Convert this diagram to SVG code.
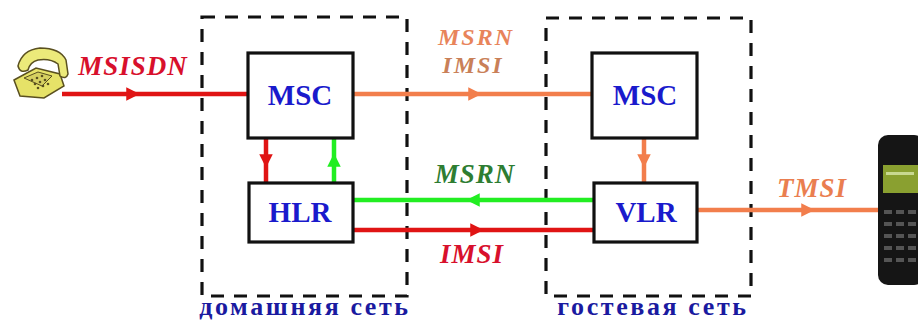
<svg xmlns="http://www.w3.org/2000/svg" width="918" height="322" viewBox="0 0 918 322">
<style>
.net{fill:none;stroke:#111;stroke-width:3.2;stroke-dasharray:13 10}
.box{fill:#fff;stroke:#111;stroke-width:3.2}
.nt{font-family:"Liberation Serif",serif;font-weight:bold;font-size:29px;fill:#1a1acc;text-anchor:middle}
.lb{font-family:"Liberation Serif",serif;font-style:italic;font-weight:bold;font-size:27px;text-anchor:middle;letter-spacing:1px}
.sm{font-size:24px;letter-spacing:2px}
.cap{font-family:"Liberation Serif",serif;font-weight:bold;font-size:26px;fill:#1a1aa0;text-anchor:middle;letter-spacing:2.6px}
.red{stroke:#e01414;stroke-width:4.5;fill:none}
.org{stroke:#f27e4c;stroke-width:4.5;fill:none}
.grn{stroke:#22ee22;stroke-width:4.5;fill:none}
</style>
<defs>
<marker id="ar" viewBox="0 0 10 10" refX="5" refY="5" markerWidth="3" markerHeight="3" orient="auto"><path d="M0,0 L10,5 L0,10 Z" fill="#e01414"/></marker>
<marker id="ao" viewBox="0 0 10 10" refX="5" refY="5" markerWidth="3" markerHeight="3" orient="auto"><path d="M0,0 L10,5 L0,10 Z" fill="#f27e4c"/></marker>
<marker id="ag" viewBox="0 0 10 10" refX="5" refY="5" markerWidth="3" markerHeight="3" orient="auto"><path d="M0,0 L10,5 L0,10 Z" fill="#22ee22"/></marker>
</defs>
<rect width="918" height="322" fill="#fff"/>

<g id="home-net">
<rect class="net" x="202" y="17" width="205" height="279"/>
<text class="cap" x="305" y="315">домашняя сеть</text>
</g>
<g id="visited-net">
<rect class="net" x="546" y="18" width="205" height="278"/>
<text class="cap" x="653" y="315">гостевая сеть</text>
</g>

<g id="connectors">
<path class="red" d="M62,94 L133,94 L248,94" marker-mid="url(#ar)"/>
<path class="org" d="M353,94 L475,94 L592,94" marker-mid="url(#ao)"/>
<path class="red" d="M266,138 L266,161 L266,183" marker-mid="url(#ar)"/>
<path class="grn" d="M334,183 L334,160 L334,138" marker-mid="url(#ag)"/>
<path class="org" d="M644,138 L644,161 L644,183" marker-mid="url(#ao)"/>
<path class="grn" d="M594,200 L473,200 L353,200" marker-mid="url(#ag)"/>
<path class="red" d="M353,230 L477,230 L594,230" marker-mid="url(#ar)"/>
<path class="org" d="M697,210 L808,210 L878,210" marker-mid="url(#ao)"/>
</g>

<g id="labels">
<text class="lb" x="133" y="75" fill="#d8102c">MSISDN</text>
<text class="lb sm" x="476" y="45" fill="#e8845a">MSRN</text>
<text class="lb sm" x="473" y="73" fill="#c98058">IMSI</text>
<text class="lb" x="475" y="183" fill="#2e7d32">MSRN</text>
<text class="lb" x="472" y="263" fill="#d8102c">IMSI</text>
<text class="lb" x="812" y="197" fill="#ea7e50">TMSI</text>
</g>

<g id="home-msc"><rect class="box" x="248" y="53" width="105" height="85"/><text class="nt" x="300" y="105">MSC</text></g>
<g id="hlr"><rect class="box" x="249" y="183" width="104" height="59"/><text class="nt" x="300" y="222">HLR</text></g>
<g id="visited-msc"><rect class="box" x="592" y="53" width="105" height="85"/><text class="nt" x="645" y="105">MSC</text></g>
<g id="vlr"><rect class="box" x="594" y="183" width="103" height="59"/><text class="nt" x="646" y="222">VLR</text></g>

<g id="telephone" stroke="#5a5020" stroke-width="1.5">
<path d="M14,80 L36,68 L60,74 L64,86 L44,98 L20,96 Z" fill="#e6e268"/>
<path d="M24,78 L38,72 L52,76 L42,86 Z" fill="#d6d060" stroke-width="1"/>
<path d="M18,66 Q22,50 40,48 Q60,48 66,60 L68,74 Q66,80 60,76 L58,64 Q50,58 38,60 Q30,62 28,70 Q20,74 18,66 Z" fill="#ecea7a"/>
<g fill="#5a5020" stroke="none"><circle cx="32" cy="80" r="1.3"/><circle cx="37" cy="78" r="1.3"/><circle cx="42" cy="76" r="1.3"/><circle cx="35" cy="84" r="1.3"/><circle cx="40" cy="82" r="1.3"/><circle cx="45" cy="80" r="1.3"/><circle cx="38" cy="88" r="1.3"/><circle cx="43" cy="86" r="1.3"/><circle cx="48" cy="84" r="1.3"/></g>
</g>

<g id="mobile">
<rect x="878" y="135" width="46" height="150" rx="10" fill="#151515"/>
<rect x="883" y="165" width="35" height="28" fill="#8aa030"/>
<rect x="886" y="172" width="28" height="3" fill="#c8d890"/>
<g fill="#555"><rect x="884" y="210" width="8" height="4"/><rect x="896" y="210" width="8" height="4"/><rect x="908" y="210" width="8" height="4"/><rect x="884" y="222" width="8" height="4"/><rect x="896" y="222" width="8" height="4"/><rect x="908" y="222" width="8" height="4"/><rect x="884" y="234" width="8" height="4"/><rect x="896" y="234" width="8" height="4"/><rect x="908" y="234" width="8" height="4"/><rect x="884" y="246" width="8" height="4"/><rect x="896" y="246" width="8" height="4"/><rect x="908" y="246" width="8" height="4"/><rect x="884" y="258" width="8" height="4"/><rect x="896" y="258" width="8" height="4"/><rect x="908" y="258" width="8" height="4"/></g>
</g>
</svg>
